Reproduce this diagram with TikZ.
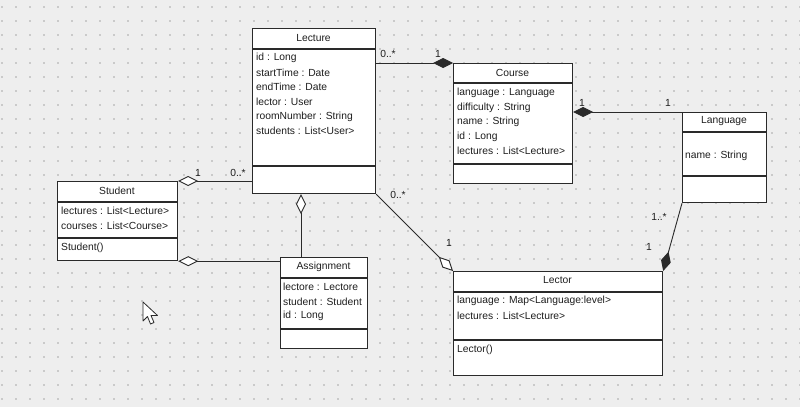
\documentclass[tikz,border=0pt]{standalone}
\usepackage{fontspec}
\setmainfont{Liberation Sans}
\usetikzlibrary{arrows.meta,calc}
\definecolor{bgc}{HTML}{EEEEEE}
\definecolor{dotc}{HTML}{CACACA}
\definecolor{linec}{HTML}{2A2A2A}
\definecolor{txtc}{HTML}{1E1E1E}
\tikzset{
  classbox/.style={draw=linec,line width=1.2pt,fill=white,rectangle,inner sep=0pt,anchor=north west},
  divider/.style={draw=linec,line width=1.2pt},
  attr/.style={font=\fontsize{10.3}{12}\selectfont,text=txtc,anchor=west,inner sep=0pt},
  ttl/.style={font=\fontsize{10.3}{12}\selectfont,text=txtc,anchor=center,inner sep=0pt},
  mult/.style={font=\fontsize{10.3}{12}\selectfont,text=txtc,anchor=center,inner sep=0pt},
  conn/.style={draw=linec,line width=0.9pt},
}
\begin{document}
\begin{tikzpicture}[x=1pt,y=-1pt]
\fill[bgc] (0,0) rectangle (800,407);
\useasboundingbox (0,0) rectangle (800,407);
\foreach \i in {2,16,...,800}{\foreach \j in {7,21,...,407}{\fill[dotc] (\i-0.6,\j-0.6) rectangle (\i+0.6,\j+0.6);}}

% Lecture
\node[classbox,minimum width=123pt,minimum height=165pt] (lecture) at (252,28) {};
\draw[divider] (252,49) -- (375,49);
\draw[divider] (252,166) -- (375,166);
\node[ttl] (lectureT) at (313.5,38.5) {Lecture};
\node[attr] (lec1) at (256,58) {id : Long};
\node[attr] (lec2) at (256,72.6) {startTime : Date};
\node[attr] (lec3) at (256,87.2) {endTime : Date};
\node[attr] (lec4) at (256,101.8) {lector : User};
\node[attr] (lec5) at (256,116.4) {roomNumber : String};
\node[attr] (lec6) at (256,131) {students : List<User>};

% Course
\node[classbox,minimum width=119pt,minimum height=120pt] (course) at (453,63) {};
\draw[divider] (453,83) -- (572,83);
\draw[divider] (453,164) -- (572,164);
\node[ttl] (courseT) at (512.5,72.5) {Course};
\node[attr] (co1) at (457,93) {language : Language};
\node[attr] (co2) at (457,107.5) {difficulty : String};
\node[attr] (co3) at (457,122) {name : String};
\node[attr] (co4) at (457,136.5) {id : Long};
\node[attr] (co5) at (457,151) {lectures : List<Lecture>};

% Language
\node[classbox,minimum width=84pt,minimum height=90pt] (language) at (682,112) {};
\draw[divider] (682,132) -- (766,132);
\draw[divider] (682,176) -- (766,176);
\node[ttl] (languageT) at (724,121.5) {Language};
\node[attr] (la1) at (685,156) {name : String};

% Student
\node[classbox,minimum width=120pt,minimum height=79pt] (student) at (57,181) {};
\draw[divider] (57,202) -- (177,202);
\draw[divider] (57,238) -- (177,238);
\node[ttl] (studentT) at (117,191) {Student};
\node[attr] (st1) at (61,211) {lectures : List<Lecture>};
\node[attr] (st2) at (61,225.5) {courses : List<Course>};
\node[attr] (st3) at (61,248) {Student()};

% Assignment
\node[classbox,minimum width=87pt,minimum height=91pt] (assign) at (280,257) {};
\draw[divider] (280,278) -- (367,278);
\draw[divider] (280,329) -- (367,329);
\node[ttl] (assignT) at (323.5,266.5) {Assignment};
\node[attr] (as1) at (283,287) {lectore : Lectore};
\node[attr] (as2) at (283,301.5) {student : Student};
\node[attr] (as3) at (283,316) {id : Long};

% Lector
\node[classbox,minimum width=209pt,minimum height=104pt] (lector) at (453,271) {};
\draw[divider] (453,292) -- (662,292);
\draw[divider] (453,340) -- (662,340);
\node[ttl] (lectorT) at (557.5,280.5) {Lector};
\node[attr] (lr1) at (457,301) {language : Map<Language:level>};
\node[attr] (lr2) at (457,315.5) {lectures : List<Lecture>};
\node[attr] (lr3) at (457,350) {Lector()};

% connectors
\coordinate (asTop) at ($(assign.north west)+(21,0)$);
\draw[conn,-{Diamond[length=20pt,width=10pt]}] (lecture.east |- course.north) -- (course.north west);
\draw[conn,{Diamond[length=20pt,width=10pt]}-] (course.east |- language.north) -- (language.north west);
\draw[conn,-{Diamond[length=20pt,width=10pt]}] (language.south west) -- (lector.north east);
\draw[conn,-{Diamond[open,fill=white,length=20pt,width=10pt]}] (lecture.south east) -- (lector.north west);
\draw[conn,{Diamond[open,fill=white,length=20pt,width=10pt]}-] (student.north east) -- (lecture.west |- student.north);
\draw[conn,{Diamond[open,fill=white,length=20pt,width=10pt]}-] (lecture.south -| asTop) -- (asTop);
\draw[conn,{Diamond[open,fill=white,length=20pt,width=10pt]}-] (student.south east) -- (assign.west |- student.south east);

% multiplicities
\node[mult] (m1) at (388,54) {0..*};
\node[mult] (m2) at (438,54) {1};
\node[mult] (m3) at (582,103) {1};
\node[mult] (m4) at (668,103) {1};
\node[mult] (m5) at (659,217) {1..*};
\node[mult] (m6) at (649,247) {1};
\node[mult] (m7) at (398,195) {0..*};
\node[mult] (m8) at (449,243) {1};
\node[mult] (m9) at (198,173) {1};
\node[mult] (m10) at (238,173) {0..*};

% mouse cursor
\draw[fill=white,draw=linec,line width=0.8pt,line join=round] (143,302) -- (143,321) -- (147.5,316.5) -- (150.5,324) -- (154,322.5) -- (151,315.5) -- (157.5,315.5) -- cycle;
\end{tikzpicture}
\end{document}
